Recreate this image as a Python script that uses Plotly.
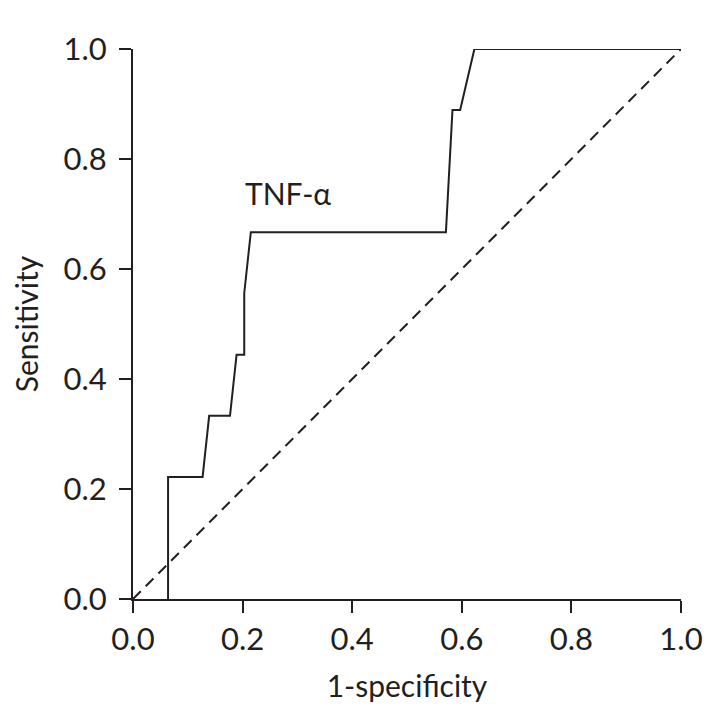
import plotly.graph_objects as go

# ROC curve points
fpr = [0.064, 0.064, 0.127, 0.139, 0.177, 0.189, 0.203, 0.203, 0.215, 0.571, 0.583, 0.597, 0.623, 1.0]
tpr = [0.0, 0.222, 0.222, 0.333, 0.333, 0.444, 0.444, 0.556, 0.667, 0.667, 0.889, 0.889, 1.0, 1.0]
ref_x = [0.0, 1.0]
ref_y = [0.0, 1.0]
ticks = [0.0, 0.2, 0.4, 0.6, 0.8, 1.0]
tick_text = ["0.0", "0.2", "0.4", "0.6", "0.8", "1.0"]

ink = "#231f20"
font = "Lato"

roc = go.Scatter(x=fpr, y=tpr, mode="lines", line=dict(color=ink, width=2), showlegend=False)
diag = go.Scatter(x=ref_x, y=ref_y, mode="lines",
                  line=dict(color=ink, width=2, dash="11px,7px"), showlegend=False)

axis = dict(
    range=[0, 1],
    tickvals=ticks,
    ticktext=tick_text,
    showgrid=False,
    zeroline=False,
    showline=True,
    linecolor=ink,
    linewidth=2,
    ticks="outside",
    ticklen=12,
    tickwidth=2,
    tickcolor=ink,
    tickfont=dict(family=font, size=31, color=ink),
)

# page body has an 8px margin, so the figure is sized 8px smaller
layout = go.Layout(
    width=716,
    height=713,
    margin=dict(l=125, r=43, t=41, b=122),
    plot_bgcolor="white",
    paper_bgcolor="white",
    xaxis=dict(axis, title=dict(text="1-specificity", font=dict(family=font, size=30, color=ink), standoff=20)),
    yaxis=dict(axis, ticklabelstandoff=6,
               title=dict(text="Sensitivity", font=dict(family=font, size=30, color=ink), standoff=18)),
    annotations=[dict(x=0.2, y=0.738, xref="x", yref="y", text="TNF-α", showarrow=False,
                      xanchor="left", font=dict(family=font, size=30, color=ink))],
)

fig = go.Figure(data=[diag, roc], layout=layout)
fig.write_html("out.html")
